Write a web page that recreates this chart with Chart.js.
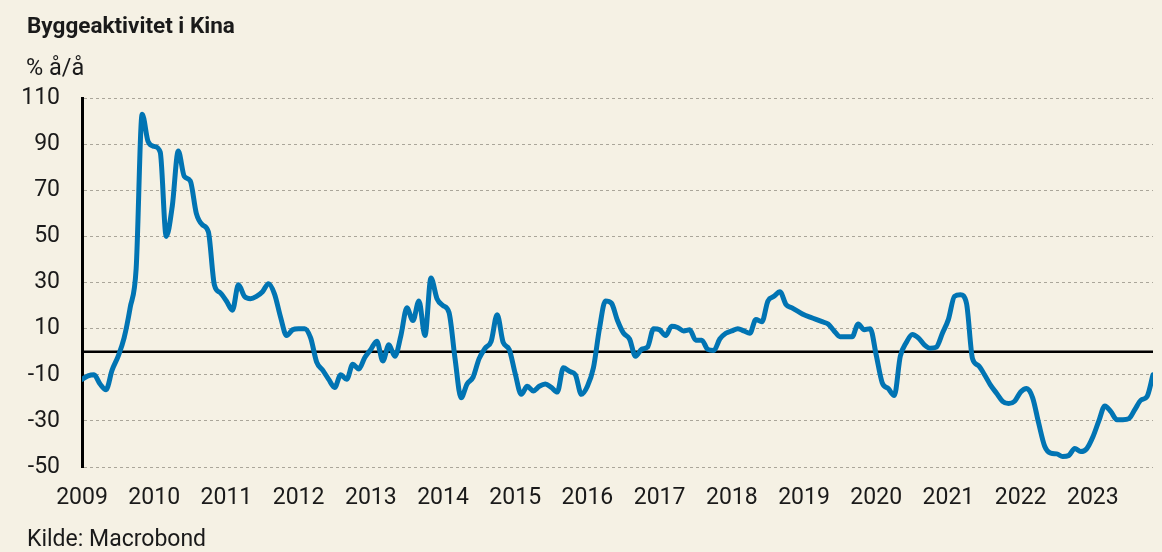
<!DOCTYPE html>
<html>
<head>
<meta charset="utf-8">
<script src="https://cdn.jsdelivr.net/npm/chart.js@4"></script>
<style>
  html, body { margin: 0; padding: 0; background: #f5f1e4; }
  #wrap { position: relative; width: 1162px; height: 552px; }
</style>
</head>
<body>
<div id="wrap"><canvas id="chart" width="1162" height="552"></canvas></div>
<script>
// tick labels (x axis, one per January)
const yearLabels = ["2009", "2010", "2011", "2012", "2013", "2014", "2015", "2016", "2017", "2018", "2019", "2020", "2021", "2022", "2023"];

// byggeaktivitet i Kina, % å/å, monthly from Jan 2009
const monthlyValues = [
  -12, -10.5, -10, -14, -16.5, -8, -2, 6, 19, 36, 103, 91,          // 2009
  89, 86.5, 50, 63, 87, 76, 74, 60, 55, 52, 29, 25.5,               // 2010
  22, 18, 29, 24, 23, 24, 26, 29.5, 25, 15, 7, 9.5,                 // 2011
  10, 10, 6, -4.5, -8, -12, -15.5, -10, -12, -5.5, -7.5, -2.5,      // 2012
  1, 4.5, -4, 3, -2, 7, 19, 13.5, 22, 7, 32, 23,                    // 2013
  20, 17, -3, -20, -14, -11, -3, 1.5, 4.5, 16, 4, 1,                // 2014
  -9.5, -18.5, -15, -17, -15, -14, -15.5, -17.5, -7, -8.5, -10, -18.5, // 2015
  -15, -7, 10, 22, 21, 13.5, 8, 5.5, -2, 1, 2, 10,                  // 2016
  9.5, 7, 11, 10.5, 9, 9.5, 5, 5, 1, 0.5, 5.5, 8,                   // 2017
  9, 10, 9, 8, 14, 13, 22, 24, 26, 20.5, 19, 17.5,                  // 2018
  16, 15, 14, 13, 12, 9, 6.5, 6.5, 6.5, 12, 9.5, 10,                // 2019
  -1.5, -13.5, -16, -19, -2, 4, 7.5, 6, 3, 1.5, 2, 8,               // 2020
  14, 24, 24.7, 21, -3, -6, -10, -14.5, -18, -21.5, -22.5, -21.5,   // 2021
  -17.5, -16, -20, -31, -41, -44, -44.3, -45.5, -45, -42, -43.3, -42, // 2022
  -37, -30, -23.5, -26, -29.5, -29.5, -29, -25, -21, -19.5, -10     // 2023
];

const yMin = -50;
const yMax = 110;
const yStep = 20;

const ink = "#1a1a1a";
const lineBlue = "#0174b3";
const tickFont = { family: "Roboto", size: 23 };

// zero line and the texts around the plot
const extras = {
  id: "extras",
  beforeDatasetsDraw(chart) {
    const { ctx, chartArea, scales } = chart;
    const y0 = scales.y.getPixelForValue(0);
    ctx.save();
    ctx.strokeStyle = "#000";
    ctx.lineWidth = 2.5;
    ctx.beginPath();
    ctx.moveTo(chartArea.left, y0);
    ctx.lineTo(chartArea.right, y0);
    ctx.stroke();
    ctx.restore();
  },
  afterDraw(chart) {
    const { ctx } = chart;
    ctx.save();
    ctx.fillStyle = ink;
    ctx.textBaseline = "alphabetic";
    ctx.textAlign = "left";
    ctx.font = "bold 22.5px Roboto";
    ctx.fillText("Byggeaktivitet i Kina", 27, 33);
    ctx.font = "23.5px Roboto";
    ctx.fillText("% å/å", 26, 75);
    ctx.font = "23px Roboto";
    ctx.fillText("Kilde: Macrobond", 27, 546);
    ctx.restore();
  },
};

const ctx = document.getElementById("chart").getContext("2d");
const chart = new Chart(ctx, {
  type: "line",
  data: {
    datasets: [
      {
        label: "Byggeaktivitet",
        data: monthlyValues.map((v, i) => ({ x: i, y: v })),
        borderColor: lineBlue,
        borderWidth: 5,
        pointRadius: 0,
        cubicInterpolationMode: "monotone",
        borderJoinStyle: "round",
        borderCapStyle: "round",
        fill: false,
      },
    ],
  },
  options: {
    responsive: false,
    animation: false,
    layout: { padding: { top: 98, right: 9, left: 0, bottom: 0 } },
    plugins: {
      legend: { display: false },
      tooltip: { enabled: false },
    },
    scales: {
      x: {
        type: "linear",
        min: 0,
        max: monthlyValues.length - 1,
        grid: { display: false, drawTicks: false },
        border: { display: false },
        afterBuildTicks: (axis) => {
          axis.ticks = axis.ticks.filter((t) => t.value % 12 === 0);
        },
        afterFit: (axis) => {
          axis.height = 85;
        },
        ticks: {
          stepSize: 12,
          includeBounds: false,
          autoSkip: false,
          maxRotation: 0,
          padding: 17,
          color: ink,
          font: tickFont,
          callback: (value) => yearLabels[value / 12],
        },
      },
      y: {
        min: yMin,
        max: yMax,
        afterFit: (axis) => {
          axis.width = 82;
        },
        grid: {
          color: "#aaa69a",
          lineWidth: 1,
          drawTicks: false,
        },
        border: { display: true, color: "#000", width: 3, dash: [3, 3] },
        ticks: {
          stepSize: yStep,
          padding: 22,
          color: ink,
          font: tickFont,
        },
      },
    },
  },
  plugins: [extras],
});
</script>
</body>
</html>
